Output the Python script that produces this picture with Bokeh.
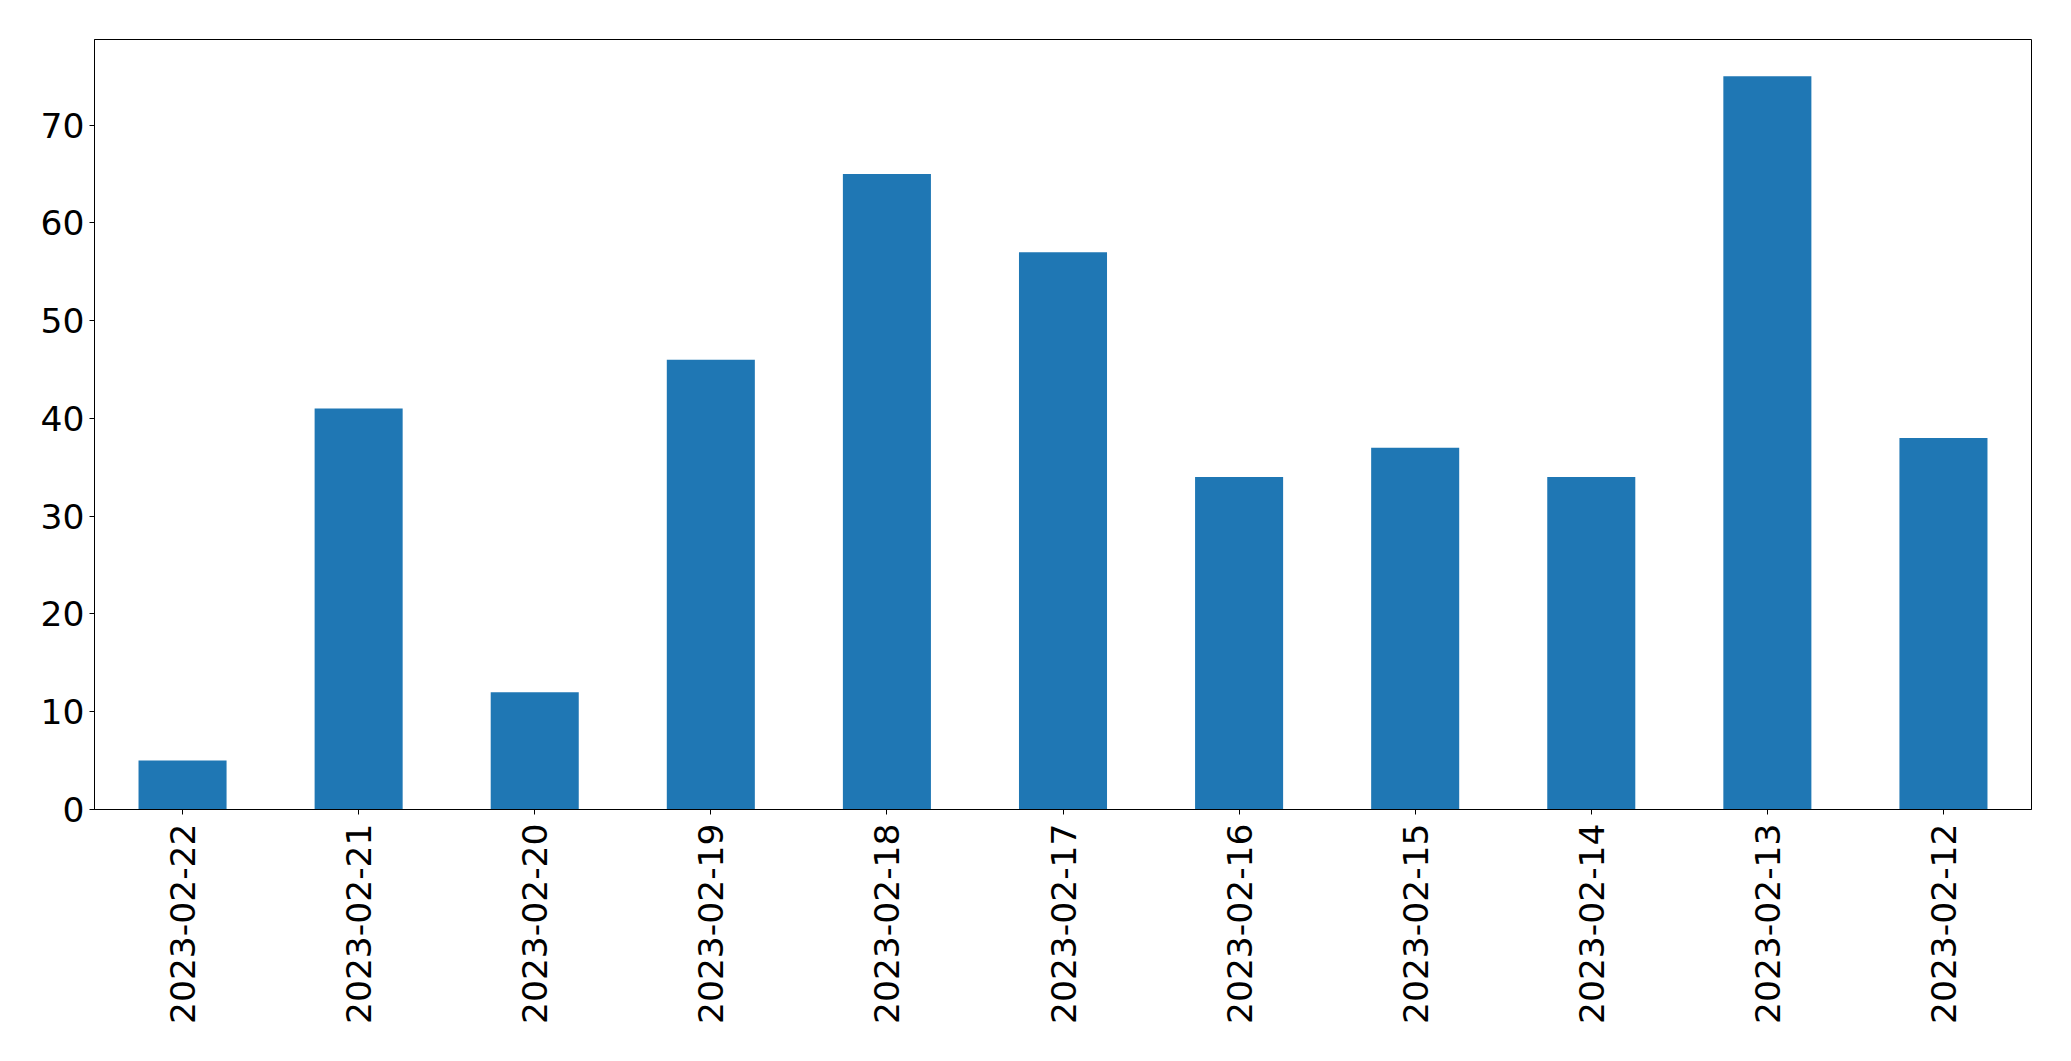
from bokeh.plotting import figure
from bokeh.models import FactorRange, Range1d, FixedTicker, ColumnDataSource
from bokeh.embed import file_html
from bokeh.resources import INLINE
import math

dates = ["2023-02-22", "2023-02-21", "2023-02-20", "2023-02-19", "2023-02-18",
         "2023-02-17", "2023-02-16", "2023-02-15", "2023-02-14", "2023-02-13",
         "2023-02-12"]
counts = [5, 41, 12, 46, 65, 57, 34, 37, 34, 75, 38]
y_ticks = [0, 10, 20, 30, 40, 50, 60, 70]

src = ColumnDataSource(dict(date=dates, count=counts))

p = figure(x_range=FactorRange(*dates), y_range=Range1d(0, max(counts) * 1.05),
           frame_width=1937, frame_height=770,
           min_border_left=94, min_border_top=39, min_border_right=24, min_border_bottom=230,
           output_backend="svg", toolbar_location=None)
p.vbar(x="date", top="count", width=0.5, source=src, fill_color="#1f77b4", line_color=None)

p.xgrid.visible = False
p.ygrid.visible = False
p.outline_line_color = "black"
p.outline_line_width = 1
p.outline_line_alpha = 1
p.background_fill_color = "white"
p.border_fill_color = "white"

p.yaxis.ticker = FixedTicker(ticks=y_ticks)
for ax in (p.xaxis[0], p.yaxis[0]):
    ax.major_label_text_font = "DejaVu Sans"
    ax.major_label_text_font_size = "34.5px"
    ax.major_label_text_color = "black"
    ax.axis_line_color = "black"
    ax.major_tick_line_color = "black"
    ax.major_tick_out = 5
    ax.major_tick_in = 0
    ax.minor_tick_out = 0
    ax.minor_tick_in = 0
    ax.major_label_standoff = 5
p.xaxis.major_label_orientation = math.pi / 2
p.xaxis.major_label_standoff = 9

open("out.html", "w").write(file_html(p, INLINE))
